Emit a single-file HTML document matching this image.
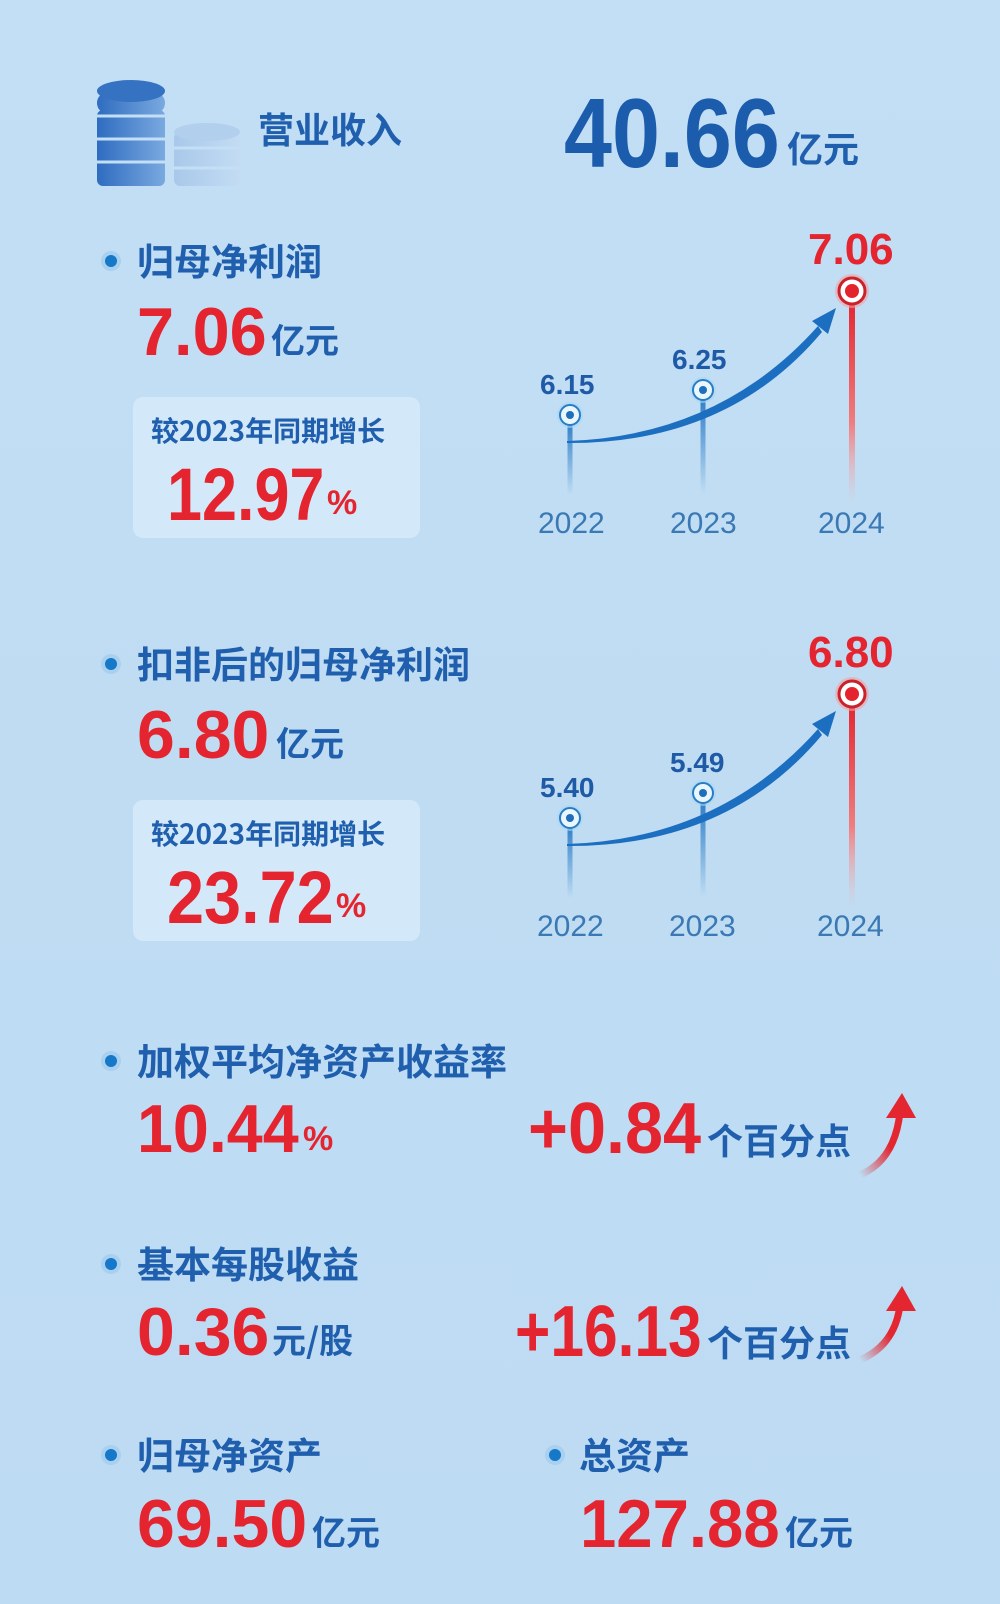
<!DOCTYPE html>
<html><head><meta charset="utf-8">
<style>
*{margin:0;padding:0;box-sizing:border-box}
body{width:1000px;height:1604px;overflow:hidden;background:linear-gradient(180deg,#c3dff5 0%,#bfdcf3 50%,#bddbf3 100%);position:relative;font-family:"Liberation Sans","Noto Sans CJK SC",sans-serif}
.t{position:absolute;line-height:1;white-space:nowrap;transform-origin:0 0}
.cj{font-family:"Noto Sans CJK SC","WenQuanYi Zen Hei",sans-serif;font-weight:700;color:#1f5fae}
.num{font-family:"Liberation Sans",sans-serif;font-weight:700;color:#e4242f}
.dot{position:absolute;width:20px;height:20px;border-radius:50%;background:#a9d0ef}
.dot::after{content:"";position:absolute;left:4px;top:4px;width:12px;height:12px;border-radius:50%;background:#1578c8}
.box{position:absolute;background:#d3e8f8;border-radius:10px}
.yr{font-family:"Liberation Sans",sans-serif;font-size:30px;color:#3a79b4}
.lb{font-family:"Liberation Sans",sans-serif;font-weight:700;font-size:28px;color:#1f5aa6}
</style></head><body>

<svg style="position:absolute;left:0;top:0" width="1000" height="1604">
<defs>
<linearGradient id="cg" x1="0" x2="1"><stop offset="0" stop-color="#2f6cc0"/><stop offset="1" stop-color="#7aa9e0"/></linearGradient>
<linearGradient id="cg2" x1="0" x2="1"><stop offset="0" stop-color="#a9c8ea"/><stop offset="1" stop-color="#c3dcf3"/></linearGradient>
<linearGradient id="bv" x1="0" y1="0" x2="0" y2="1"><stop offset="0" stop-color="#2c7cc6"/><stop offset="1" stop-color="#2c7cc6" stop-opacity="0"/></linearGradient>
<linearGradient id="rv" x1="0" y1="0" x2="0" y2="1"><stop offset="0" stop-color="#e3262f"/><stop offset="0.6" stop-color="#f07d7f"/><stop offset="1" stop-color="#f5b4b4" stop-opacity="0"/></linearGradient>
<linearGradient id="ra" x1="0" y1="1" x2="1" y2="0"><stop offset="0" stop-color="#e3262f" stop-opacity="0"/><stop offset="0.6" stop-color="#e3262f"/></linearGradient>
</defs>
<g>
<rect x="97" y="110" width="68" height="76" rx="6" fill="url(#cg)"/>
<rect x="97" y="92" width="68" height="22" rx="11" fill="url(#cg)"/>
<ellipse cx="131" cy="91" rx="34" ry="11" fill="#3572c2"/>
<line x1="97" y1="116" x2="165" y2="116" stroke="#c3dff5" stroke-width="3"/>
<line x1="97" y1="139" x2="165" y2="139" stroke="#c3dff5" stroke-width="3"/>
<line x1="97" y1="162" x2="165" y2="162" stroke="#c3dff5" stroke-width="3"/>
<rect x="174" y="132" width="66" height="54" rx="6" fill="url(#cg2)"/>
<ellipse cx="207" cy="132" rx="33" ry="9" fill="#b3cfee"/>
<line x1="174" y1="148" x2="240" y2="148" stroke="#c3dff5" stroke-width="3"/>
<line x1="174" y1="168" x2="240" y2="168" stroke="#c3dff5" stroke-width="3"/>
</g>

<g id="c1">
<rect x="567.5" y="420" width="5" height="75" fill="url(#bv)"/>
<rect x="700.5" y="396" width="5" height="98" fill="url(#bv)"/>
<rect x="849" y="300" width="6" height="205" fill="url(#rv)"/>
<path d="M567 441 Q720 436 818 326 L822 332 Q728 444 567 443 Z" fill="#1c6fc0"/>
<polygon points="836,308 812,321 828,334" fill="#1c6fc0"/>
<circle cx="570" cy="415" r="13" fill="#a6d7f5" opacity=".6"/>
<circle cx="570" cy="415" r="10" fill="#e9f7fd" stroke="#2a7cc4" stroke-width="2"/>
<circle cx="570" cy="415" r="4" fill="#1f6fba"/>
<circle cx="703" cy="390" r="13" fill="#a6d7f5" opacity=".6"/>
<circle cx="703" cy="390" r="10" fill="#e9f7fd" stroke="#2a7cc4" stroke-width="2"/>
<circle cx="703" cy="390" r="4" fill="#1f6fba"/>
<circle cx="852" cy="291" r="17" fill="#f3a0a4" opacity=".6"/>
<circle cx="852" cy="291" r="13" fill="#fff" stroke="#c9222b" stroke-width="3"/>
<circle cx="852" cy="291" r="7" fill="#e3242f"/>
</g>
<use href="#c1" y="403"/>

<path d="M860 1175 Q895 1160 900 1112" stroke="url(#ra)" stroke-width="7" fill="none"/>
<polygon points="902,1093 886,1118 916,1118" fill="#e3262f"/>
<path d="M860 1360 Q895 1345 900 1305" stroke="url(#ra)" stroke-width="7" fill="none"/>
<polygon points="902,1286 886,1311 916,1311" fill="#e3262f"/>
</svg>

<div class="t cj" style="left:258px;top:110px;font-size:36px">营业收入</div>
<div class="t num" style="left:564px;top:84px;font-size:98px;color:#1b5cac;transform:scaleX(.88)">40.66</div>
<div class="t cj" style="left:787px;top:129px;font-size:36px">亿元</div>

<div class="dot" style="left:101px;top:251px"></div>
<div class="t cj" style="left:137px;top:241px;font-size:37px">归母净利润</div>
<div class="t num" style="left:137px;top:298px;font-size:68px;transform:scaleX(.98)">7.06</div>
<div class="t cj" style="left:271px;top:322px;font-size:34px">亿元</div>
<div class="box" style="left:133px;top:397px;width:287px;height:141px"></div>
<div class="t cj" style="left:151px;top:416px;font-size:28px">较2023年同期增长</div>
<div class="t num" style="left:167px;top:458px;font-size:74px;transform:scaleX(.85)">12.97</div>
<div class="t num" style="left:327px;top:486px;font-size:34px">%</div>
<div class="t lb" style="left:540px;top:371px">6.15</div>
<div class="t lb" style="left:672px;top:346px">6.25</div>
<div class="t num" style="left:808px;top:228px;font-size:44px">7.06</div>
<div class="t yr" style="left:538px;top:509px">2022</div>
<div class="t yr" style="left:670px;top:509px">2023</div>
<div class="t yr" style="left:818px;top:509px">2024</div>

<div class="dot" style="left:101px;top:654px"></div>
<div class="t cj" style="left:137px;top:644px;font-size:37px">扣非后的归母净利润</div>
<div class="t num" style="left:137px;top:701px;font-size:68px">6.80</div>
<div class="t cj" style="left:276px;top:725px;font-size:34px">亿元</div>
<div class="box" style="left:133px;top:800px;width:287px;height:141px"></div>
<div class="t cj" style="left:151px;top:819px;font-size:28px">较2023年同期增长</div>
<div class="t num" style="left:167px;top:861px;font-size:74px;transform:scaleX(.9)">23.72</div>
<div class="t num" style="left:336px;top:889px;font-size:34px">%</div>
<div class="t lb" style="left:540px;top:774px">5.40</div>
<div class="t lb" style="left:670px;top:749px">5.49</div>
<div class="t num" style="left:808px;top:631px;font-size:44px">6.80</div>
<div class="t yr" style="left:537px;top:912px">2022</div>
<div class="t yr" style="left:669px;top:912px">2023</div>
<div class="t yr" style="left:817px;top:912px">2024</div>

<div class="dot" style="left:101px;top:1051px"></div>
<div class="t cj" style="left:137px;top:1041px;font-size:37px">加权平均净资产收益率</div>
<div class="t num" style="left:137px;top:1095px;font-size:68px;transform:scaleX(.95)">10.44</div>
<div class="t num" style="left:303px;top:1122px;font-size:34px">%</div>
<div class="t num" style="left:528px;top:1093px;font-size:72px;transform:scaleX(.95)">+0.84</div>
<div class="t cj" style="left:707px;top:1121px;font-size:36px">个百分点</div>

<div class="dot" style="left:101px;top:1254px"></div>
<div class="t cj" style="left:137px;top:1244px;font-size:37px">基本每股收益</div>
<div class="t num" style="left:137px;top:1298px;font-size:68px">0.36</div>
<div class="t cj" style="left:272px;top:1322px;font-size:34px">元/股</div>
<div class="t num" style="left:515px;top:1296px;font-size:72px;transform:scaleX(.84)">+16.13</div>
<div class="t cj" style="left:707px;top:1323px;font-size:36px">个百分点</div>

<div class="dot" style="left:101px;top:1445px"></div>
<div class="t cj" style="left:137px;top:1435px;font-size:37px">归母净资产</div>
<div class="t num" style="left:137px;top:1490px;font-size:68px">69.50</div>
<div class="t cj" style="left:312px;top:1514px;font-size:34px">亿元</div>
<div class="dot" style="left:545px;top:1445px"></div>
<div class="t cj" style="left:579px;top:1435px;font-size:37px">总资产</div>
<div class="t num" style="left:580px;top:1490px;font-size:68px;transform:scaleX(.96)">127.88</div>
<div class="t cj" style="left:785px;top:1514px;font-size:34px">亿元</div>
</body></html>
